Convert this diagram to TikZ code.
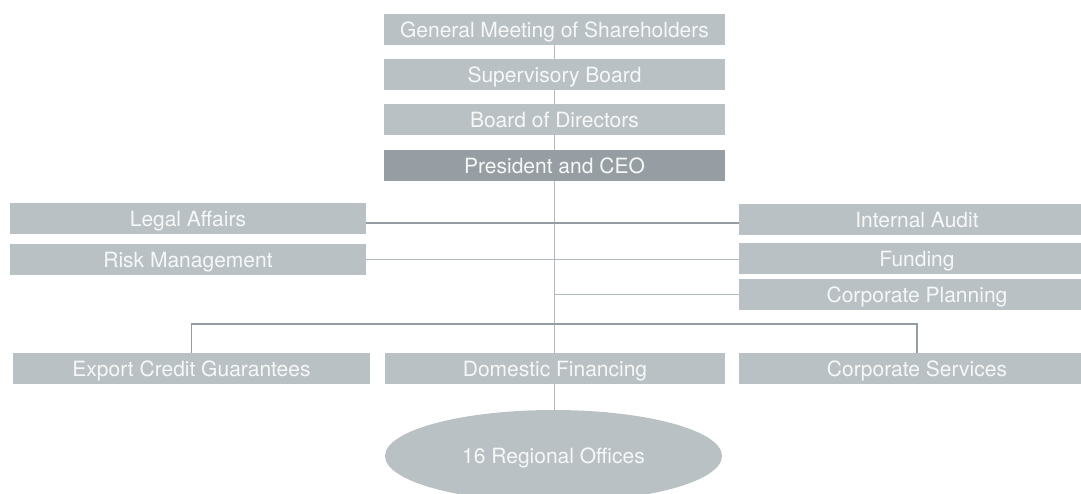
\documentclass[tikz,border=0pt]{standalone}
\usepackage{fontspec}
\setmainfont{TeX Gyre Heros}
\usetikzlibrary{shapes.geometric,backgrounds}
\definecolor{boxc}{HTML}{BAC1C4}
\definecolor{ceoc}{HTML}{979EA3}
\definecolor{linec}{HTML}{B2B9BD}
\definecolor{linedark}{HTML}{959CA1}
\definecolor{txtc}{HTML}{F6F8F8}
\begin{document}
\begin{tikzpicture}[x=1pt,y=-1pt,
  box/.style={fill=boxc,draw=none,inner sep=0pt,minimum height=31pt,text=txtc,
    font=\fontsize{21}{23}\selectfont,text height=15pt,text depth=0pt,anchor=center},
  conn/.style={draw=linec,line width=1.1pt},
  conndark/.style={draw=linedark,line width=1.1pt}]
\useasboundingbox (0,0) rectangle (1081,493);
\clip (0,0) rectangle (1081,493);
% top column
\node[box,minimum width=341pt] (gm) at (554.5,29.5) {General Meeting of Shareholders};
\node[box,minimum width=341pt] (sb) at (554.5,74.5) {Supervisory Board};
\node[box,minimum width=341pt] (bd) at (554.5,119.5) {Board of Directors};
\node[box,minimum width=341pt,fill=ceoc] (ceo) at (554.5,165.5) {President and CEO};
% staff units
\node[box,minimum width=356pt] (legal) at (188,218.5) {Legal Affairs};
\node[box,minimum width=356pt] (risk) at (188,259.5) {Risk Management};
\node[box,minimum width=356pt] (audit) at (917,219.5) {Internal Audit};
\node[box,minimum width=356pt] (funding) at (917,258.5) {Funding};
\node[box,minimum width=356pt] (planning) at (917,294.5) {Corporate Planning};
% business units
\node[box,minimum width=357pt] (export) at (191.5,368.5) {Export Credit Guarantees};
\node[box,minimum width=340pt] (domestic) at (555,368.5) {Domestic Financing};
\node[box,minimum width=356pt] (services) at (917,368.5) {Corporate Services};
\node[box,ellipse,minimum width=337pt,minimum height=92pt] (reg) at (553.5,456) {16 Regional Offices};
% connectors
\coordinate (la) at ([yshift=-4.5pt]legal.east);
\coordinate (bar) at (554,324);
\begin{scope}[on background layer]
\draw[conn] (gm.south) -- (gm.south |- reg.north);
\draw[conndark] (la) -- (la -| audit.west);
\draw[conn] (risk.east) -- (risk.east -| funding.west);
\draw[conn] (planning.west) -- (planning.west -| gm.south);
\draw[conndark] (export.north) |- (bar) -| (services.north);
\end{scope}
\end{tikzpicture}
\end{document}
